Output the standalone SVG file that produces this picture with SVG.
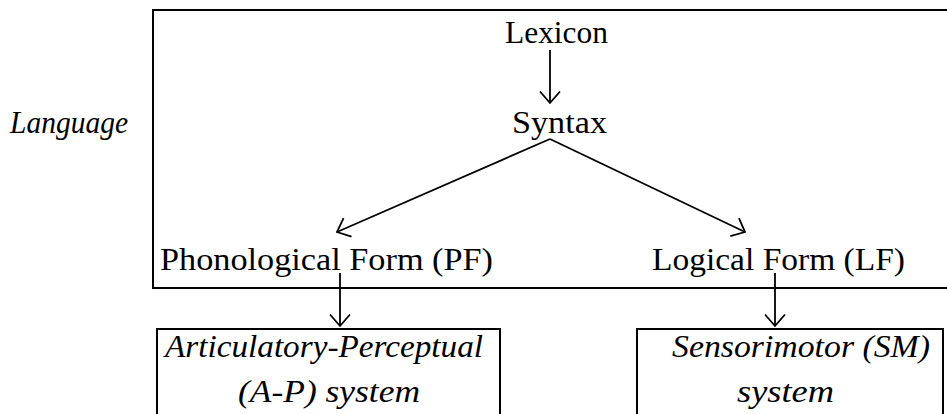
<svg xmlns="http://www.w3.org/2000/svg" width="947" height="414" viewBox="0 0 947 414">
<defs>
<marker id="ah" viewBox="-1 -1 15 23" refX="12.5" refY="10.5" markerWidth="15" markerHeight="23" markerUnits="userSpaceOnUse" orient="auto">
<path d="M1,0.5 L12.5,10.5 L1,20.5" fill="none" stroke="#000" stroke-width="1.8"/>
</marker>
<style>
.t{font-size:30.5px;fill:#000}
.it{font-style:italic}
.box{fill:none;stroke:#000;stroke-width:2}
.c{stroke:#000;stroke-width:1.8;fill:none;marker-end:url(#ah)}
</style>
</defs>
<rect width="947" height="414" fill="#fff"/>
<g font-family="Liberation Serif, DejaVu Serif, serif">
<g id="language">
<rect class="box" x="153" y="10" width="800" height="278"/>
<text class="t it" x="10" y="133" textLength="118" lengthAdjust="spacingAndGlyphs">Language</text>
</g>
<g id="lexicon"><text class="t" x="505" y="43" textLength="103" lengthAdjust="spacingAndGlyphs">Lexicon</text></g>
<g id="syntax"><text class="t" x="512" y="133" textLength="95" lengthAdjust="spacingAndGlyphs">Syntax</text></g>
<g id="pf"><text class="t" x="160" y="270" textLength="333" lengthAdjust="spacingAndGlyphs">Phonological Form (PF)</text></g>
<g id="lf"><text class="t" x="652" y="270" textLength="253" lengthAdjust="spacingAndGlyphs">Logical Form (LF)</text></g>
<g id="ap">
<rect class="box" x="157" y="329" width="343" height="100"/>
<text class="t it" x="165" y="357" textLength="318" lengthAdjust="spacingAndGlyphs">Articulatory-Perceptual</text>
<text class="t it" x="238" y="402" textLength="182" lengthAdjust="spacingAndGlyphs">(A-P) system</text>
</g>
<g id="sm">
<rect class="box" x="637" y="329" width="306" height="100"/>
<text class="t it" x="672" y="357" textLength="258" lengthAdjust="spacingAndGlyphs">Sensorimotor (SM)</text>
<text class="t it" x="737" y="402" textLength="97" lengthAdjust="spacingAndGlyphs">system</text>
</g>
</g>
<g id="connectors">
<line class="c" x1="550" y1="50" x2="550" y2="103"/>
<line class="c" x1="550" y1="139" x2="337" y2="232"/>
<line class="c" x1="550" y1="139" x2="745" y2="232"/>
<line class="c" x1="340" y1="273" x2="340" y2="326"/>
<line class="c" x1="775" y1="273" x2="775" y2="326"/>
</g>
</svg>
